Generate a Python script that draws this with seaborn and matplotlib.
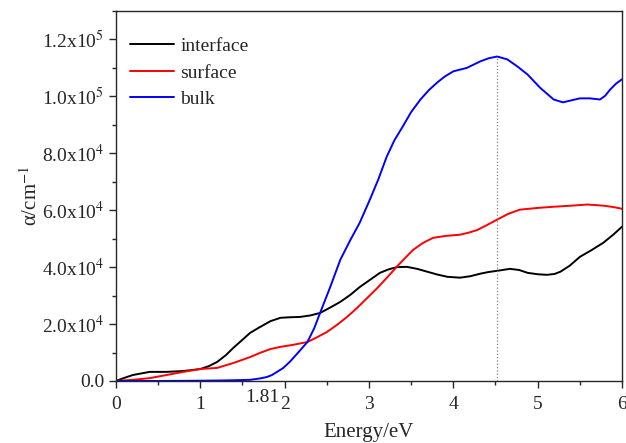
import numpy as np
import pandas as pd
import matplotlib
matplotlib.use("Agg")
import matplotlib.pyplot as plt
import seaborn as sns
from matplotlib.ticker import MultipleLocator, FuncFormatter

# values (energy in eV, alpha in cm^-1)
interface_e = [0.0, 0.1, 0.2, 0.4, 0.6, 0.8, 1.0, 1.1, 1.2, 1.3, 1.39, 1.5, 1.59, 1.71, 1.83,
               1.95, 2.07, 2.18, 2.3, 2.42, 2.54, 2.66, 2.78, 2.89, 3.01, 3.13, 3.23, 3.33,
               3.45, 3.57, 3.69, 3.81, 3.93, 4.08, 4.2, 4.32, 4.42, 4.52, 4.67, 4.78, 4.88,
               5.0, 5.11, 5.2, 5.27, 5.38, 5.5, 5.64, 5.78, 5.9, 6.0]
interface_a = [0, 1100, 2100, 3200, 3200, 3500, 4200, 5200, 6700, 9000, 11600, 14500, 16900,
               19000, 21000, 22200, 22400, 22500, 23000, 23900, 25800, 27800, 30300, 33000,
               35500, 38000, 39200, 40000, 40100, 39400, 38400, 37400, 36600, 36300, 36800,
               37700, 38300, 38700, 39400, 39000, 38000, 37500, 37300, 37600, 38400, 40500,
               43600, 46000, 48600, 51500, 54200]

surface_e = [0.0, 0.2, 0.4, 0.6, 0.8, 1.0, 1.2, 1.39, 1.59, 1.71, 1.83, 1.95, 2.1, 2.27,
             2.38, 2.5, 2.62, 2.74, 2.86, 2.98, 3.1, 3.21, 3.35, 3.52, 3.64, 3.76, 3.92,
             4.08, 4.18, 4.28, 4.4, 4.52, 4.65, 4.79, 5.0, 5.18, 5.4, 5.59, 5.78, 5.9, 6.0]
surface_a = [0, 400, 1000, 2100, 3200, 4200, 4600, 6300, 8400, 9900, 11200, 12000, 12700,
             13700, 15300, 17200, 19700, 22500, 25700, 29200, 32700, 36200, 40800, 46000,
             48500, 50300, 51000, 51400, 52100, 53000, 54800, 56700, 58700, 60200, 60800,
             61200, 61600, 62000, 61600, 61100, 60500]

bulk_e = [0.0, 0.5, 1.0, 1.3, 1.59, 1.71, 1.79, 1.85, 1.91, 1.98, 2.06, 2.16, 2.27, 2.35,
          2.42, 2.54, 2.66, 2.78, 2.89, 3.01, 3.11, 3.21, 3.3, 3.4, 3.5, 3.61, 3.71, 3.81,
          3.9, 4.0, 4.16, 4.32, 4.42, 4.52, 4.64, 4.76, 4.88, 5.03, 5.19, 5.3, 5.4, 5.5,
          5.62, 5.74, 5.8, 5.86, 5.93, 6.0]
bulk_a = [0, 0, 100, 200, 400, 900, 1400, 2100, 3200, 4500, 6700, 10000, 13700, 18500,
          23900, 33000, 42600, 49600, 55600, 63700, 70800, 78800, 84500, 89400, 94500,
          98900, 102200, 104900, 107000, 108800, 110000, 112300, 113400, 114000, 113000,
          110500, 107700, 103000, 98900, 97900, 98600, 99300, 99300, 98900, 100200,
          102400, 104500, 106000]

series_names = ["interface", "surface", "bulk"]
series_colors = ["black", "red", "blue"]

peak_energy = 4.52
peak_alpha = 114000
gap_label = "1.81"

df = pd.concat([
    pd.DataFrame({"E": interface_e, "alpha": interface_a, "series": "interface"}),
    pd.DataFrame({"E": surface_e, "alpha": surface_a, "series": "surface"}),
    pd.DataFrame({"E": bulk_e, "alpha": bulk_a, "series": "bulk"}),
])

sns.set_style("ticks")
plt.rcParams["font.family"] = ["Liberation Serif", "DejaVu Serif"]
plt.rcParams["mathtext.fontset"] = "stix"
plt.rcParams["axes.linewidth"] = 1.0

fig = plt.figure(figsize=(6.26, 4.43), dpi=100)
ax = fig.add_axes([0.1853, 0.14, 0.8083, 0.8352])

sns.lineplot(data=df, x="E", y="alpha", hue="series", hue_order=series_names,
             palette=dict(zip(series_names, series_colors)), linewidth=1.4,
             sort=True, estimator=None, ax=ax)

ax.plot([peak_energy, peak_energy], [0, peak_alpha], color="gray", linestyle=":", linewidth=0.9)

ax.set_xlim(0, 6)
ax.set_ylim(0, 130000)
ax.xaxis.set_major_locator(MultipleLocator(1))
ax.xaxis.set_minor_locator(MultipleLocator(0.5))
ax.yaxis.set_major_locator(MultipleLocator(20000))
ax.yaxis.set_minor_locator(MultipleLocator(10000))


def sci_fmt(v, pos):
    if v <= 0:
        return "0.0"
    exp = int(np.floor(np.log10(v)))
    mant = v / 10 ** exp
    return r"%.1fx10$^{%d}$" % (mant, exp)


ax.yaxis.set_major_formatter(FuncFormatter(sci_fmt))
ax.tick_params(which="major", direction="out", length=5, width=1.0, labelsize=14)
ax.tick_params(axis="x", which="major", pad=6)
ax.tick_params(which="minor", direction="out", length=3, width=1.0)
for s in ["top", "right"]:
    ax.spines[s].set_visible(True)

ax.text(1.73, -0.022, gap_label, transform=ax.get_xaxis_transform(),
        ha="center", va="top", fontsize=14)

ax.set_xlabel("Energy/eV", fontsize=15, labelpad=7)
ax.set_ylabel("α/cm$^{-1}$", fontsize=15, labelpad=0)

leg = ax.legend(loc="upper left", frameon=False, fontsize=14, handlelength=2.3,
                handletextpad=0.3, labelspacing=0.45, borderaxespad=0.3,
                bbox_to_anchor=(0.0, 0.965))
for line in leg.get_lines():
    line.set_linewidth(1.4)

fig.savefig("out.png", dpi=100)
